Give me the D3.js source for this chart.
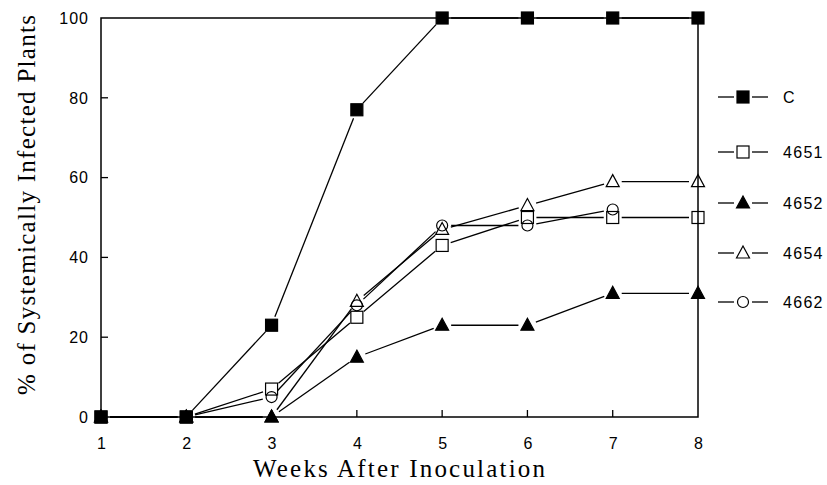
<!DOCTYPE html>
<meta charset="utf-8">
<style>
  body { margin: 0; background: white; }
  svg { background-color: white; }
  .tick-label { font-family: "Liberation Sans", Arial, sans-serif; font-size: 16px; letter-spacing: 1px; fill: black; }
  .axis-title { font-family: "Liberation Serif", "Times New Roman", serif; font-size: 25px; fill: black; }
  .legend text { font-family: "Liberation Sans", Arial, sans-serif; font-size: 16px; letter-spacing: 1.3px; fill: black; }
</style>
<div id="chart"></div>
<script src="https://d3js.org/d3.v7.min.js"></script>
<script>
  var width = 827, height = 485;

  // data
  var weeks = [1, 2, 3, 4, 5, 6, 7, 8];
  var yTicks = [0, 20, 40, 60, 80, 100];
  var seriesNames = ["C", "4651", "4652", "4654", "4662"];
  var seriesC    = [0, 0, 23, 77, 100, 100, 100, 100];
  var series4651 = [0, 0, 7, 25, 43, 50, 50, 50];
  var series4652 = [0, 0, 0, 15, 23, 23, 31, 31];
  var series4654 = [0, 0, 0, 29, 47, 53, 59, 59];
  var series4662 = [0, 0, 5, 28, 48, 48, 52];
  var markers = ["filledSquare", "openSquare", "filledTriangle", "openTriangle", "openCircle"];
  var legendY = [97, 152, 203, 253, 302];

  var x = d3.scaleLinear().domain([1, 8]).range([101, 698]);
  var y = d3.scaleLinear().domain([0, 100]).range([417, 18]);

  var svg = d3.select("#chart").append("svg")
      .attr("width", width)
      .attr("height", height);

  // frame
  svg.append("rect")
      .attr("x", x(1)).attr("y", y(100))
      .attr("width", x(8) - x(1)).attr("height", y(0) - y(100))
      .attr("fill", "none").attr("stroke", "black").attr("stroke-width", 1.5);

  // y ticks (inward)
  svg.selectAll(".ytick").data(yTicks.slice(1, -1)).enter().append("line")
      .attr("x1", x(1)).attr("x2", x(1) + 7)
      .attr("y1", function(d) { return y(d); }).attr("y2", function(d) { return y(d); })
      .attr("stroke", "black").attr("stroke-width", 1.3);
  svg.selectAll(".ylab").data(yTicks).enter().append("text")
      .attr("class", "tick-label")
      .attr("x", x(1) - 12).attr("y", function(d) { return y(d); })
      .attr("dy", "0.36em").attr("text-anchor", "end")
      .text(function(d) { return d; });

  // x ticks (inward)
  svg.selectAll(".xtick").data(weeks.slice(1, -1)).enter().append("line")
      .attr("x1", function(d) { return x(d); }).attr("x2", function(d) { return x(d); })
      .attr("y1", y(0)).attr("y2", y(0) - 7)
      .attr("stroke", "black").attr("stroke-width", 1.3);
  svg.selectAll(".xlab").data(weeks).enter().append("text")
      .attr("class", "tick-label")
      .attr("x", function(d) { return x(d) + 1; }).attr("y", y(0) + 32)
      .attr("text-anchor", "middle")
      .text(function(d) { return d; });

  // axis titles
  svg.append("text").attr("class", "axis-title")
      .attr("x", 399).attr("y", 477)
      .attr("text-anchor", "middle")
      .attr("textLength", 292).attr("lengthAdjust", "spacing")
      .text("Weeks After Inoculation");
  svg.append("text").attr("class", "axis-title")
      .attr("transform", "translate(35,205) rotate(-90)")
      .attr("text-anchor", "middle")
      .attr("textLength", 380).attr("lengthAdjust", "spacing")
      .text("% of Systemically Infected Plants");

  function drawMarker(g, type, cx, cy) {
    if (type == "filledSquare" || type == "openSquare") {
      g.append("rect")
        .attr("x", cx - 6).attr("y", cy - 6).attr("width", 12).attr("height", 12)
        .attr("fill", type == "filledSquare" ? "black" : "none")
        .attr("stroke", "black").attr("stroke-width", 1.2);
    } else if (type == "filledTriangle" || type == "openTriangle") {
      g.append("path")
        .attr("d", "M" + cx + "," + (cy - 7) + "L" + (cx + 6.5) + "," + (cy + 5) + "L" + (cx - 6.5) + "," + (cy + 5) + "Z")
        .attr("fill", type == "filledTriangle" ? "black" : "none")
        .attr("stroke", "black").attr("stroke-width", 1.2);
    } else {
      g.append("circle")
        .attr("cx", cx).attr("cy", cy).attr("r", 5.5)
        .attr("fill", "none").attr("stroke", "black").attr("stroke-width", 1.2);
    }
  }

  var allSeries = [seriesC, series4651, series4652, series4654, series4662];
  var drawOrder = [3, 4, 1, 2, 0];
  var gap = 9;

  drawOrder.forEach(function(si) {
    var vals = allSeries[si];
    var g = svg.append("g");
    for (var i = 0; i < vals.length - 1; i++) {
      var x1 = x(weeks[i]), y1 = y(vals[i]), x2 = x(weeks[i + 1]), y2 = y(vals[i + 1]);
      var dx = x2 - x1, dy = y2 - y1, len = Math.sqrt(dx * dx + dy * dy);
      var ux = dx / len, uy = dy / len;
      g.append("line")
        .attr("x1", x1 + ux * gap).attr("y1", y1 + uy * gap)
        .attr("x2", x2 - ux * gap).attr("y2", y2 - uy * gap)
        .attr("stroke", "black").attr("stroke-width", 1.3);
    }
    vals.forEach(function(v, i) { drawMarker(g, markers[si], x(weeks[i]), y(v)); });
  });

  // legend
  var legend = svg.append("g").attr("class", "legend");
  seriesNames.forEach(function(name, i) {
    var ly = legendY[i];
    legend.append("line").attr("x1", 718).attr("x2", 734).attr("y1", ly).attr("y2", ly)
      .attr("stroke", "black").attr("stroke-width", 1.3);
    legend.append("line").attr("x1", 752).attr("x2", 768).attr("y1", ly).attr("y2", ly)
      .attr("stroke", "black").attr("stroke-width", 1.3);
    drawMarker(legend, markers[i], 743, ly);
    legend.append("text").attr("x", 783).attr("y", ly).attr("dy", "0.36em").text(name);
  });
</script>
